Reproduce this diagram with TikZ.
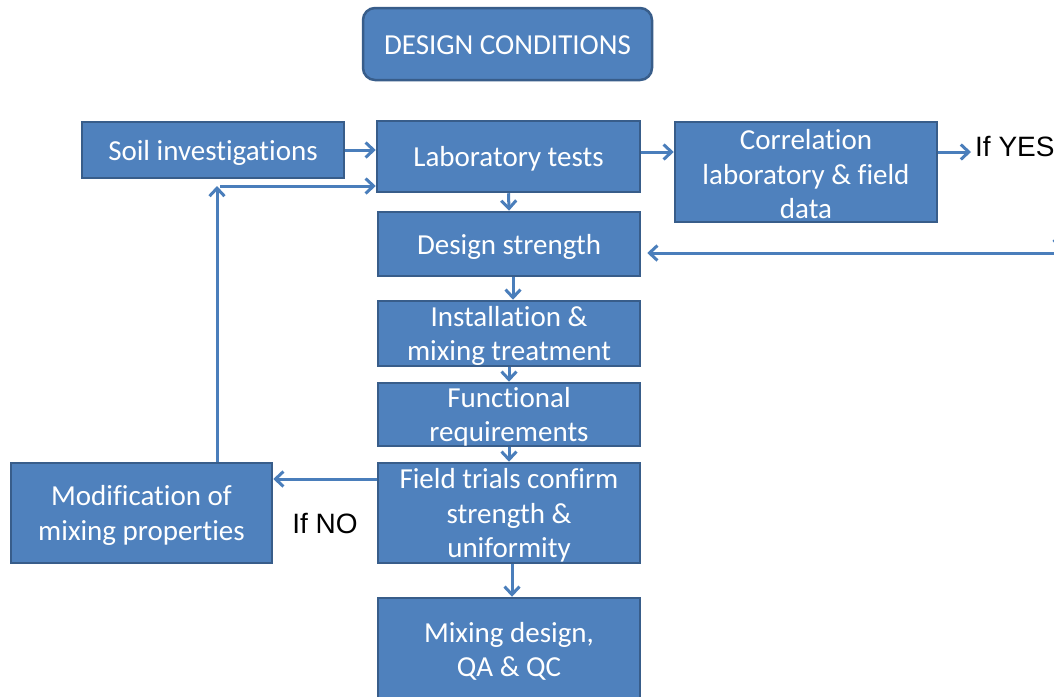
\documentclass[tikz,border=0pt]{standalone}
\usepackage{fontspec}
\setmainfont{Carlito}[Ligatures={NoCommon}]
\newfontfamily\arialf{Liberation Sans}
\usetikzlibrary{arrows.meta,calc}
\definecolor{boxfill}{HTML}{4F81BD}
\definecolor{boxline}{HTML}{385D8A}
\definecolor{arrcol}{HTML}{4A7EBB}
\begin{document}
\begin{tikzpicture}[x=1pt,y=-1pt,
  box/.style={draw=boxline, line width=2.5pt, fill=boxfill, inner sep=0pt, minimum width=262pt},
  boxtext/.style={text=white, align=center, font=\fontsize{29}{34.5}\selectfont, inner sep=0pt, yshift=-2.5pt},
  arr/.style={draw=arrcol, line width=3pt, -{Straight Barb[length=8pt,width=15pt]}},
  lbl/.style={text=black, font=\arialf\fontsize{28}{32}\selectfont, inner sep=0pt},
]
\useasboundingbox (0,0) rectangle (1054,696);
\clip (0,0) rectangle (1054,696);
\fill[white] (0,0) rectangle (1054,696);

\node[box, minimum width=289pt, minimum height=72pt, rounded corners=12pt,
  label={[boxtext, yshift=1.5pt]center:DESIGN CONDITIONS}] (dc) at (507.5,44) {};
\node[box, minimum height=56pt, label={[boxtext]center:Soil investigations}] (soil) at (213,150) {};
\node[box, minimum width=263pt, minimum height=71pt, label={[boxtext]center:Laboratory tests}] (lab) at (508.5,156.5) {};
\node[box, minimum height=100pt, label={[boxtext]center:{Correlation\\laboratory \& field\\data}}] (corr) at (806,172) {};
\node[box, minimum height=64pt, label={[boxtext]center:Design strength}] (ds) at (509,244) {};
\node[box, minimum height=65pt, label={[boxtext]center:{Installation \&\\mixing treatment}}] (inst) at (509,333.5) {};
\node[box, minimum height=63pt, label={[boxtext]center:{Functional\\requirements}}] (func) at (509,414.5) {};
\node[box, minimum height=100pt, label={[boxtext]center:{Field trials confirm\\strength \&\\uniformity}}] (field) at (509,513) {};
\node[box, minimum width=261pt, minimum height=100pt, label={[boxtext]center:{Modification of\\mixing properties}}] (mod) at (141.5,513) {};
\node[box, minimum height=102pt, label={[boxtext]center:{Mixing design,\\QA \& QC}}] (mix) at (509,649) {};

\node[lbl, anchor=west] (yes) at (975,147) {If YES};
\node[lbl] (no) at (325,523) {If NO};

\coordinate (ry) at (0,152);
\coordinate (fb) at (217,186);
\coordinate (nr) at (0,479);
\coordinate (re) at (1054,253);
\coordinate (rt) at (1061,250);
\coordinate (rs) at (1061,200);

\draw[arr] (soil.east) -- (soil.east -| lab.west);
\draw[arr] (mod.north -| fb) -- (fb);
\draw[arr] ($(fb)+(3,0)$) -- (fb -| lab.west);
\draw[arr] (lab.east |- ry) -- (corr.west |- ry);
\draw[arr] (corr.east |- ry) -- ($(yes.west |- ry)+(-4,0)$);
\draw[arr] (re) -- ($(ds.east |- re)+(6,0)$);
\draw[arr] (rs) -- (rt);
\draw[arr] (lab.south) -- (ds.north);
\draw[arr] ($(ds.south)+(4,0)$) -- ($(inst.north)+(4,0)$);
\draw[arr] (inst.south) -- (func.north);
\draw[arr] (func.south) -- (field.north);
\draw[arr] (field.west |- nr) -- (mod.east |- nr);
\draw[arr] ($(field.south)+(3,0)$) -- ($(mix.north)+(3,0)$);
\end{tikzpicture}
\end{document}
